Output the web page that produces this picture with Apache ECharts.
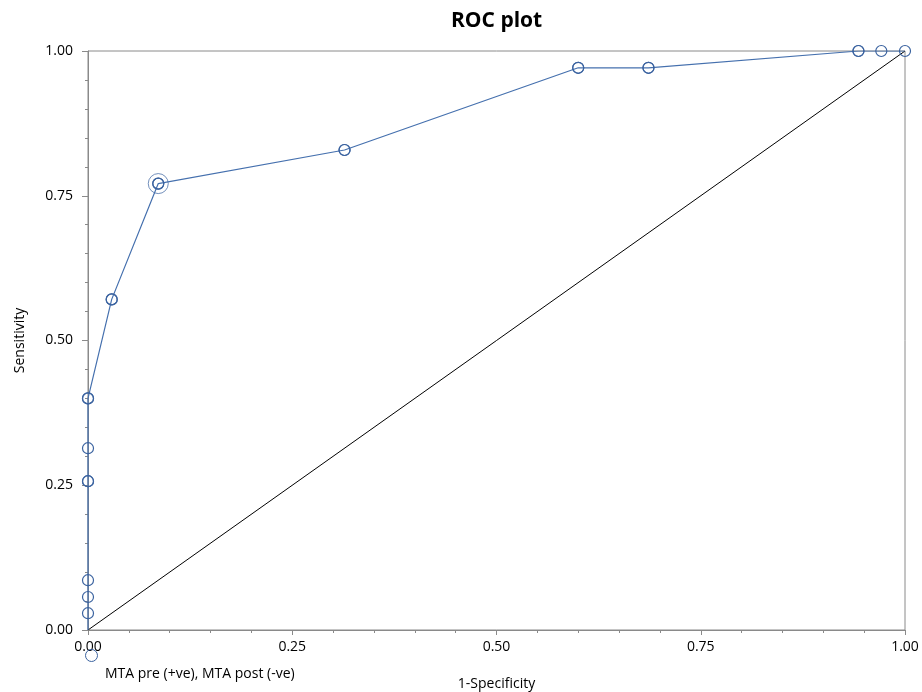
<!DOCTYPE html>
<html>
<head>
<meta charset="utf-8">
<script src="https://cdn.jsdelivr.net/npm/echarts@6/dist/echarts.min.js"></script>
<style>
html,body{margin:0;padding:0;background:#fff;}
#chart{width:922px;height:692px;}
</style>
</head>
<body>
<div id="chart"></div>
<script>
// ROC curve points (1-Specificity, Sensitivity); repeated points are tied cut-offs
const fpr = [0, 0, 0, 0, 0, 0, 0, 0, 0, 0.029, 0.029, 0.086, 0.086, 0.314, 0.314, 0.600, 0.600, 0.686, 0.686, 0.943, 0.943, 0.971, 1];
const tpr = [0, 0.029, 0.057, 0.086, 0.257, 0.257, 0.314, 0.400, 0.400, 0.571, 0.571, 0.771, 0.771, 0.829, 0.829, 0.971, 0.971, 0.971, 0.971, 1, 1, 1, 1];
const optimalPoint = [0.086, 0.771];
const diagonal = [[0, 0], [1, 1]];
const xTicks = [0, 0.25, 0.5, 0.75, 1];
const yTicks = [0, 0.25, 0.5, 0.75, 1];
const seriesName = 'MTA pre (+ve), MTA post (-ve)';

const FONT = 'Open Sans';
const blue = '#4570AE';
const mark = '#3B63A0';
const NONE = 'rgba(0,0,0,0)';

const rocData = fpr.map((x, i) => {
  const item = { value: [x, tpr[i]] };
  if (i === 0) item.symbol = 'none';
  return item;
});

const chart = echarts.init(document.getElementById('chart'));
chart.setOption({
  animation: false,
  backgroundColor: '#fff',
  textStyle: { fontFamily: FONT },
  title: {
    text: 'ROC plot', left: 451, top: 11, padding: 0,
    textStyle: { fontFamily: FONT, fontSize: 21, fontWeight: 'bold', color: '#000' }
  },
  grid: {
    left: 88, right: 17, top: 51, bottom: 62, show: true, borderColor: '#8a8a8a', borderWidth: 1,
    containLabel: false, outerBoundsMode: 'none'
  },
  legend: {
    left: 85, top: 649, padding: 0, itemWidth: 12, itemHeight: 12,
    data: [{ name: seriesName, icon: 'circle', itemStyle: { color: NONE, borderColor: mark, borderWidth: 1 } }],
    formatter: () => '',
    selectedMode: false
  },
  graphic: [{
    type: 'text', left: 105, top: 667,
    style: { text: seriesName, font: '14px "' + FONT + '"', fill: '#000' }
  }],
  xAxis: {
    type: 'value', min: xTicks[0], max: xTicks[xTicks.length - 1], interval: 0.25,
    name: '1-Specificity', nameLocation: 'middle', nameGap: 47,
    nameTextStyle: { fontFamily: FONT, fontSize: 14, color: '#000' },
    axisLine: { show: true, lineStyle: { color: '#8a8a8a' } },
    axisTick: { show: true, length: 5, lineStyle: { color: '#8a8a8a' } },
    minorTick: { show: true, splitNumber: 5, length: 3, lineStyle: { color: '#8a8a8a' } },
    splitLine: { show: false },
    axisLabel: { fontFamily: FONT, fontSize: 14, color: '#000', margin: 10, formatter: v => v.toFixed(2) }
  },
  yAxis: {
    type: 'value', min: yTicks[0], max: yTicks[yTicks.length - 1], interval: 0.25,
    name: 'Sensitivity', nameLocation: 'middle', nameGap: 61, nameRotate: 90,
    nameTextStyle: { fontFamily: FONT, fontSize: 14, color: '#000' },
    axisLine: { show: true, lineStyle: { color: '#8a8a8a' } },
    axisTick: { show: true, length: 6, lineStyle: { color: '#8a8a8a' } },
    minorTick: { show: true, splitNumber: 5, length: 3, lineStyle: { color: '#8a8a8a' } },
    splitLine: { show: false },
    axisLabel: { fontFamily: FONT, fontSize: 14, color: '#000', margin: 15, formatter: v => v.toFixed(2) }
  },
  series: [
    {
      name: 'diagonal', type: 'line', data: diagonal, symbol: 'none', silent: true,
      lineStyle: { color: '#000', width: 1 }, z: 1
    },
    {
      name: seriesName, type: 'line', data: rocData,
      symbol: 'circle', symbolSize: 11,
      lineStyle: { color: blue, width: 1.2 },
      itemStyle: { color: NONE, borderColor: mark, borderWidth: 1.2 },
      z: 3
    },
    {
      name: 'optimal', type: 'scatter', data: [optimalPoint], symbol: 'circle', symbolSize: 20,
      itemStyle: { color: NONE, borderColor: mark, borderWidth: 0.9 }, z: 2, silent: true
    }
  ]
});
</script>
</body>
</html>
